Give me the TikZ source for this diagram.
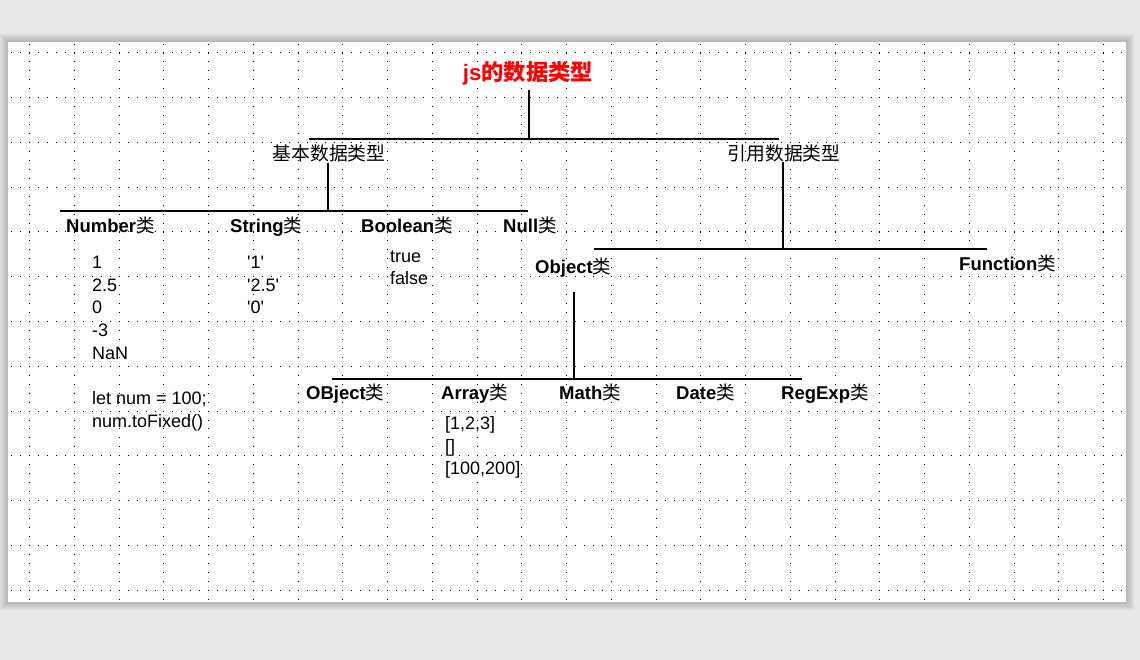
\documentclass[tikz,border=0pt]{standalone}
\usepackage{fontspec}
\setmainfont{Liberation Sans}
\newfontfamily\cjk{Noto Sans CJK SC}
\definecolor{bggray}{HTML}{E8E8E8}
\definecolor{titlered}{HTML}{FF0000}
\newcommand\clsname[1]{#1{\mdseries\cjk 类}}
\newcommand\sq{\textquotesingle}
\begin{document}
\begin{tikzpicture}[x=1pt,y=-1pt,
  lbl/.style={anchor=base west,inner sep=0pt,font=\fontsize{18.5}{22}\selectfont\bfseries},
  val/.style={anchor=base west,inner sep=0pt,font=\fontsize{18}{22}\selectfont},
  cn/.style={anchor=center,inner sep=0pt,font=\fontsize{18.8}{22}\selectfont\cjk},
  titlestyle/.style={anchor=center,inner sep=0pt,text=titlered,font=\fontsize{22.3}{25}\selectfont\bfseries},
  conn/.style={line width=1.1pt,black},
  griddot/.style={line width=1pt,black,dash pattern=on 1pt off 7.95pt}]
\useasboundingbox (0,0) rectangle (1140,660);
\fill[bggray] (0,0) rectangle (1140,660);
% page shadow
\foreach \d in {8,6,4,2}
  \fill[black,opacity=0.05] (8-\d,42-\d) rectangle (1126+\d,602+\d);
\fill[white] (8,42) rectangle (1126,602);
% dotted grid
\foreach \k in {0,...,24}
  \draw[griddot] ({29.7+44.75*\k},43.6) -- ({29.7+44.75*\k},601);
\foreach \k in {0,...,12}
  \draw[griddot] (11.3,{53+44.75*\k}) -- (1125,{53+44.75*\k});

% title
\node[titlestyle] (js) at (528,73) {js{\cjk\bfseries 的数据类型}};
\coordinate (jsfoot) at (529,90);
\coordinate (bar1L) at (309,139);
\coordinate (bar1R) at (779,139);
\draw[conn] (jsfoot) -- (jsfoot |- bar1L);
\draw[conn] (bar1L) -- (bar1R);

% second level
\node[cn] (basic) at (329,153) {基本数据类型};
\node[cn] (ref) at (784,153) {引用数据类型};

% basic types
\coordinate (basicfoot) at (328,163);
\coordinate (bar2L) at (60,211);
\coordinate (bar2R) at (528,211);
\draw[conn] (basicfoot) -- (basicfoot |- bar2L);
\draw[conn] (bar2L) -- (bar2R);

\node[lbl] (num) at (66,232.6) {\clsname{Number}};
\node[lbl] (str) at (230,232.6) {\clsname{String}};
\node[lbl] (bool) at (361,232.6) {\clsname{Boolean}};
\node[lbl] (null) at (503,232.6) {\clsname{Null}};

\node[val] (n1) at (92,268.5) {1};
\node[val] (n2) at (92,291.2) {2.5};
\node[val] (n3) at (92,313.9) {0};
\node[val] (n4) at (92,336.6) {-3};
\node[val] (n5) at (92,359.3) {NaN};
\node[val] (n6) at (92,404.5) {let num = 100;};
\node[val] (n7) at (92,427.5) {num.toFixed()};

\node[val] (s1) at (247,268.5) {\sq1\sq};
\node[val] (s2) at (247,291.2) {\sq2.5\sq};
\node[val] (s3) at (247,313.9) {\sq0\sq};

\node[val] (b1) at (390,262.5) {true};
\node[val] (b2) at (390,284.5) {false};

% reference types
\coordinate (reffoot) at (783,162);
\coordinate (bar3L) at (594,249);
\coordinate (bar3R) at (987,249);
\draw[conn] (reffoot) -- (reffoot |- bar3L);
\draw[conn] (bar3L) -- (bar3R);

\node[lbl] (obj) at (535,273.6) {\clsname{Object}};
\node[lbl] (func) at (959,270.6) {\clsname{Function}};

\coordinate (objfoot) at (574,292);
\coordinate (bar4L) at (332,379);
\coordinate (bar4R) at (802,379);
\draw[conn] (objfoot) -- (objfoot |- bar4L);
\draw[conn] (bar4L) -- (bar4R);

\node[lbl] (obj2) at (306,399.6) {\clsname{OBject}};
\node[lbl] (arr) at (441,399.6) {\clsname{Array}};
\node[lbl] (math) at (559,399.6) {\clsname{Math}};
\node[lbl] (date) at (676,399.6) {\clsname{Date}};
\node[lbl] (reg) at (781,399.6) {\clsname{RegExp}};

\node[val] (a1) at (445,429.5) {[1,2,3]};
\node[val] (a2) at (445,452.5) {[]};
\node[val] (a3) at (445,474.5) {[100,200]};
\end{tikzpicture}
\end{document}
